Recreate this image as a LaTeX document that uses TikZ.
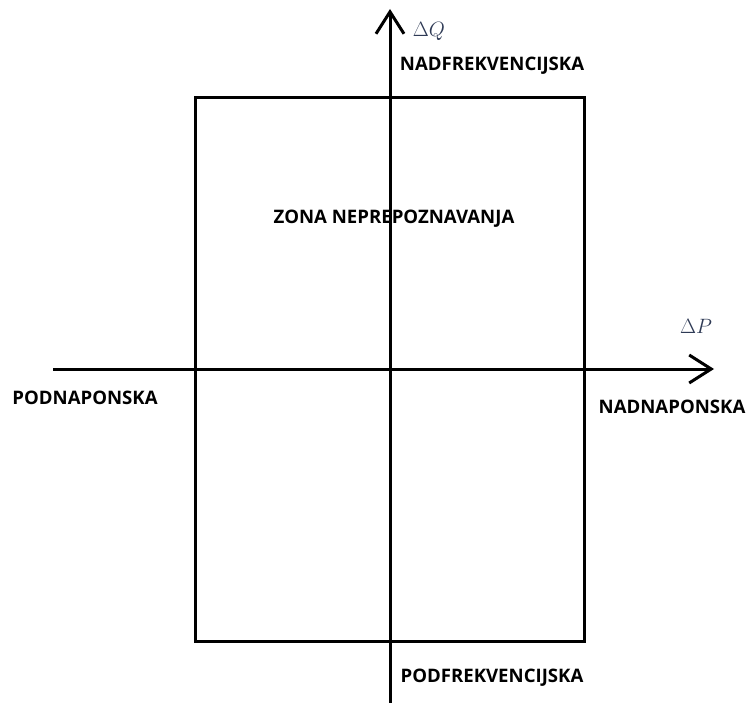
\documentclass[tikz,border=0pt]{standalone}
\usepackage{fontspec}
\setmainfont{Open Sans}
\usetikzlibrary{arrows.meta}
\definecolor{axlbl}{HTML}{2E3A55}
\begin{document}
\begin{tikzpicture}[x=1pt,y=-1pt,
  axis/.style={line width=3pt,-{Straight Barb[length=22pt,width=28pt,line width=3pt]}},
  frame/.style={draw,line width=3pt},
  lbl/.style={font=\fontsize{18.6}{20}\selectfont\bfseries,inner sep=0pt},
  mlbl/.style={font=\fontsize{21}{23}\selectfont,text=axlbl,inner sep=0pt}]
\useasboundingbox (0,0) rectangle (747,703);
\fill[white] (0,0) rectangle (747,703);
\draw[frame] (195,98) rectangle (584,641);
\coordinate (xs) at (53,369);
\coordinate (xe) at (714,369);
\coordinate (ys) at (390,703);
\coordinate (ye) at (390,9);
\draw[axis] (xs) -- (xe);
\draw[axis] (ys) -- (ye);
\node[mlbl] (dq) at (429,31) {$\Delta Q$};
\node[mlbl] (dp) at (696,326) {$\Delta P$};
\node[lbl] (nf) at (492,66) {NADFREKVENCIJSKA};
\node[lbl] (zn) at (394,219) {ZONA NEPREPOZNAVANJA};
\node[lbl] (pn) at (85,398) {PODNAPONSKA};
\node[lbl] (nn) at (672,407) {NADNAPONSKA};
\node[lbl] (pf) at (492,678) {PODFREKVENCIJSKA};
\end{tikzpicture}
\end{document}
